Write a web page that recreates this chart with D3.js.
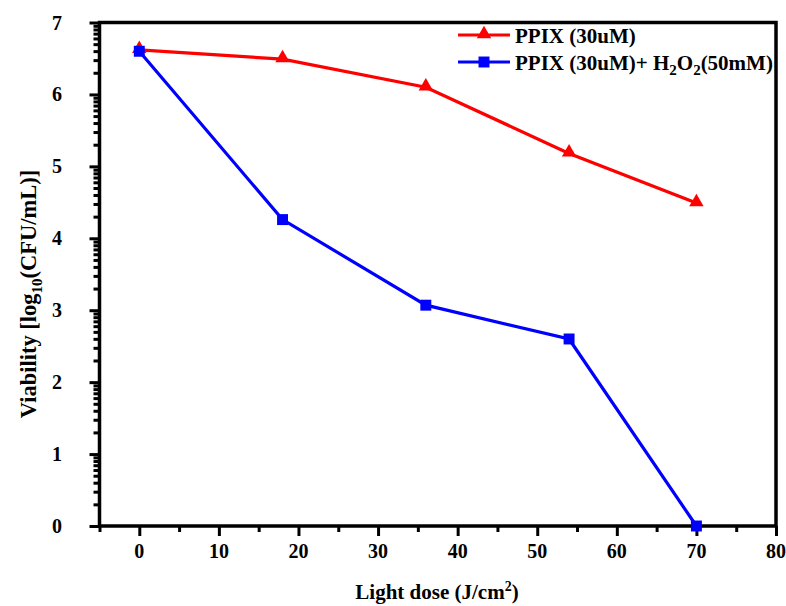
<!DOCTYPE html>
<html>
<head>
<meta charset="utf-8">
<script src="https://cdn.jsdelivr.net/npm/d3@7"></script>
<style>
  html, body { margin: 0; padding: 0; background: #fff; }
  svg { display: block; }
  text { font-family: "Liberation Serif", "Times New Roman", serif; font-weight: bold; fill: #000; }
</style>
</head>
<body>
<svg id="chart" width="786" height="606"></svg>
<script>
// ---- data ----
const lightDose = [0, 18, 36, 54, 70];
const ppix = [6.62, 6.49, 6.10, 5.18, 4.49];
const ppixH2O2 = [6.60, 4.26, 3.07, 2.60, 0.0];
const xMajorTicks = [0, 10, 20, 30, 40, 50, 60, 70, 80];
const xMinorTicks = [-5, 5, 15, 25, 35, 45, 55, 65, 75];
const yMajorTicks = [0, 1, 2, 3, 4, 5, 6, 7];
const seriesNames = ["PPIX (30uM)", "PPIX (30uM)+ H2O2(50mM)"];

(function () {
const svg = d3.select("#chart");
const mLeft = 99.5, mRight = 776, mTop = 22.5, mBottom = 526;
const x = d3.scaleLinear().domain([-5, 80]).range([mLeft, mRight]);
const y = d3.scaleLinear().domain([0, 7]).range([mBottom, mTop]);

// log-style minor ticks on y axis (as in original)
const yMinorTicks = [];
for (let n = 0; n < 7; n++) for (let k = 2; k <= 9; k++) yMinorTicks.push(n + Math.log10(k));

const axW = 3.5;

// x axis ticks
const gx = svg.append("g").attr("transform", `translate(0,${mBottom})`);
gx.call(d3.axisBottom(x).tickValues(xMajorTicks).tickSize(10).tickSizeOuter(0).tickFormat(""));
gx.call(g => g.select(".domain").remove());
const gx2 = svg.append("g").attr("transform", `translate(0,${mBottom})`);
gx2.call(d3.axisBottom(x).tickValues(xMinorTicks).tickSize(6).tickSizeOuter(0).tickFormat(""));
gx2.call(g => g.select(".domain").remove());

// y axis ticks
const gy = svg.append("g").attr("transform", `translate(${mLeft},0)`);
gy.call(d3.axisLeft(y).tickValues(yMajorTicks).tickSize(10).tickSizeOuter(0).tickFormat(""));
gy.call(g => g.select(".domain").remove());
const gy2 = svg.append("g").attr("transform", `translate(${mLeft},0)`);
gy2.call(d3.axisLeft(y).tickValues(yMinorTicks).tickSize(6).tickSizeOuter(0).tickFormat(""));
gy2.call(g => g.select(".domain").remove());

svg.selectAll(".tick line").attr("stroke", "#000").attr("stroke-width", 3);

// frame
svg.append("rect")
  .attr("x", mLeft).attr("y", mTop)
  .attr("width", mRight - mLeft).attr("height", mBottom - mTop)
  .attr("fill", "none").attr("stroke", "#000").attr("stroke-width", axW);

// tick labels
svg.append("g").selectAll("text").data(xMajorTicks).join("text")
  .attr("x", d => x(d)).attr("y", 558)
  .attr("text-anchor", "middle").attr("font-size", 20)
  .text(d => d);
svg.append("g").selectAll("text").data(yMajorTicks).join("text")
  .attr("x", 62).attr("y", d => y(d) + 7)
  .attr("text-anchor", "end").attr("font-size", 20)
  .text(d => d);

// axis titles
const xt = svg.append("text").attr("x", 437).attr("y", 599)
  .attr("text-anchor", "middle").attr("font-size", 21);
xt.append("tspan").text("Light dose (J/cm");
xt.append("tspan").attr("font-size", 14).attr("dy", -8).text("2");
xt.append("tspan").attr("dy", 8).text(")");

const yt = svg.append("text").attr("transform", "translate(36,294) rotate(-90)")
  .attr("text-anchor", "middle").attr("font-size", 22.5);
yt.append("tspan").text("Viability [log");
yt.append("tspan").attr("font-size", 15).attr("dy", 6).text("10");
yt.append("tspan").attr("dy", -6).text("(CFU/mL)]");

// lines
const line = d3.line().x(d => x(d[0])).y(d => y(d[1]));
const redData = lightDose.map((d, i) => [d, ppix[i]]);
const blueData = lightDose.map((d, i) => [d, ppixH2O2[i]]);

svg.append("path").datum(redData).attr("d", line)
  .attr("fill", "none").attr("stroke", "#ff0000").attr("stroke-width", 3.2);
svg.append("path").datum(blueData).attr("d", line)
  .attr("fill", "none").attr("stroke", "#0000ff").attr("stroke-width", 3.2);

const tri = d3.symbol().type(d3.symbolTriangle).size(90);
const sq = d3.symbol().type(d3.symbolSquare).size(120);

svg.append("g").selectAll("path").data(redData).join("path")
  .attr("d", tri).attr("transform", d => `translate(${x(d[0])},${y(d[1]) - 1})`)
  .attr("fill", "#ff0000");
svg.append("g").selectAll("path").data(blueData).join("path")
  .attr("d", sq).attr("transform", d => `translate(${x(d[0])},${y(d[1])})`)
  .attr("fill", "#0000ff");

// legend
const lg = svg.append("g");
const legY = [35, 62];
const legColors = ["#ff0000", "#0000ff"];
[0, 1].forEach(i => {
  lg.append("line").attr("x1", 458).attr("x2", 510).attr("y1", legY[i]).attr("y2", legY[i])
    .attr("stroke", legColors[i]).attr("stroke-width", 3.2);
  lg.append("path").attr("d", i === 0 ? tri : sq)
    .attr("transform", `translate(484,${legY[i] - (i === 0 ? 1 : 0)})`)
    .attr("fill", legColors[i]);
});
lg.append("text").attr("x", 515).attr("y", legY[0] + 8).attr("font-size", 21).text(seriesNames[0]);
const t2 = lg.append("text").attr("x", 515).attr("y", legY[1] + 8).attr("font-size", 21);
t2.append("tspan").text("PPIX (30uM)+ H");
t2.append("tspan").attr("font-size", 15).attr("dy", 5).text("2");
t2.append("tspan").attr("dy", -5).text("O");
t2.append("tspan").attr("font-size", 15).attr("dy", 5).text("2");
t2.append("tspan").attr("dy", -5).text("(50mM)");
})();
</script>
</body>
</html>
